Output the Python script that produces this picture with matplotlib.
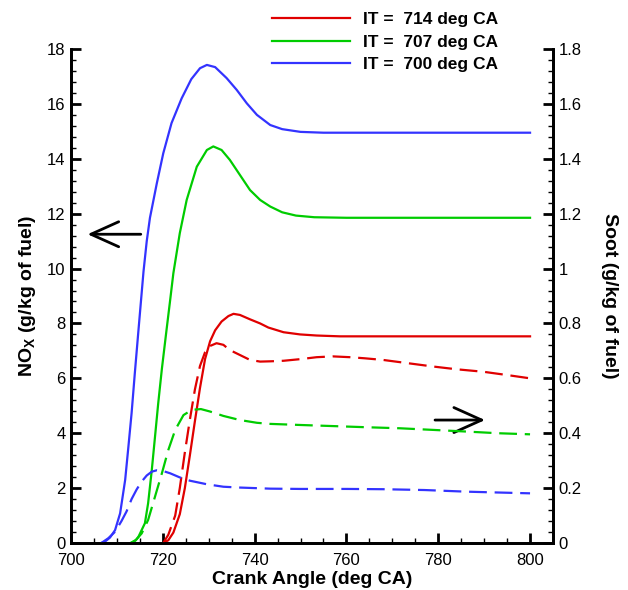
import matplotlib
matplotlib.use("Agg")
import matplotlib.pyplot as plt
from matplotlib.ticker import MultipleLocator, FuncFormatter

plt.rcParams['font.family'] = ['Liberation Sans', 'DejaVu Sans']
plt.rcParams['mathtext.fontset'] = 'custom'
plt.rcParams['mathtext.rm'] = 'Liberation Sans:bold'
plt.rcParams['mathtext.it'] = 'Liberation Sans:bold'
plt.rcParams['mathtext.bf'] = 'Liberation Sans:bold'

# Injection timings
labels = ["IT =  714 deg CA", "IT =  707 deg CA", "IT =  700 deg CA"]
colors = ["#e00000", "#00cc00", "#3333ff"]

# NOx (g/kg of fuel) versus crank angle
nox_714_ca = [720.1, 721.2, 722.3, 723.7, 724.8, 725.9, 727.0, 728.1, 729.2, 730.3, 731.4, 732.8, 734.3,
              735.4, 736.8, 739.0, 741.2, 743.0, 746.3, 749.9, 753.5, 758.6, 780.0, 800.0]
nox_714 = [0.0, 0.10, 0.38, 1.05, 2.00, 3.20, 4.45, 5.65, 6.70, 7.35, 7.75, 8.07, 8.27,
           8.35, 8.31, 8.15, 8.00, 7.85, 7.68, 7.60, 7.56, 7.53, 7.53, 7.53]

nox_707_ca = [713.0, 714.0, 714.7, 716.1, 716.8, 717.6, 718.3, 719.0, 719.8, 720.8, 721.6, 722.3, 723.7,
              725.2, 727.4, 729.6, 731.0, 732.8, 734.6, 736.8, 739.0, 741.2, 743.4, 746.0, 749.0,
              753.0, 760.0, 800.0]
nox_707 = [0.0, 0.08, 0.23, 0.72, 1.45, 2.66, 3.87, 5.09, 6.35, 7.75, 8.85, 9.83, 11.29,
           12.50, 13.71, 14.32, 14.45, 14.32, 13.96, 13.41, 12.86, 12.50, 12.26, 12.05, 11.93,
           11.87, 11.85, 11.85]

nox_700_ca = [706.6, 707.4, 708.5, 709.6, 710.7, 711.8, 712.5, 713.2, 713.9, 714.7, 715.8, 716.5, 717.2,
              718.7, 720.1, 721.9, 724.1, 726.2, 728.1, 729.6, 731.4, 733.9, 736.1, 738.3, 740.5,
              743.4, 746.0, 750.0, 755.0, 780.0, 800.0]
nox_700 = [0.0, 0.05, 0.20, 0.47, 1.08, 2.30, 3.50, 4.73, 6.18, 7.76, 9.90, 11.00, 11.85,
           13.11, 14.20, 15.30, 16.20, 16.90, 17.30, 17.42, 17.34, 16.94, 16.51, 16.02, 15.60,
           15.23, 15.08, 14.98, 14.95, 14.95, 14.95]

# Soot (g/kg of fuel) versus crank angle
soot_714_ca = [720.1, 721.2, 722.7, 723.7, 724.8, 725.9, 727.0, 728.1, 729.2, 730.3, 731.7, 733.2, 734.6,
               736.8, 739.0, 741.2, 743.4, 746.3, 750.0, 753.5, 757.0, 760.8, 764.0, 768.0, 773.0,
               778.9, 784.0, 789.8, 795.0, 800.0]
soot_714 = [0.0, 0.030, 0.100, 0.200, 0.330, 0.450, 0.560, 0.645, 0.695, 0.718, 0.728, 0.722, 0.703,
            0.685, 0.667, 0.661, 0.662, 0.664, 0.670, 0.677, 0.680, 0.677, 0.673, 0.667, 0.656,
            0.643, 0.633, 0.624, 0.612, 0.600]

soot_707_ca = [713.0, 714.2, 715.4, 716.8, 718.3, 719.8, 721.2, 722.7, 724.5, 726.3, 728.3,
               730.3, 733.2, 736.8, 740.5, 743.4, 750.0, 757.1, 764.0, 771.7, 779.0, 786.2, 793.0, 800.0]
soot_707 = [0.0, 0.012, 0.035, 0.084, 0.169, 0.254, 0.339, 0.412, 0.466, 0.485, 0.488,
            0.479, 0.463, 0.448, 0.438, 0.434, 0.430, 0.426, 0.422, 0.418, 0.412, 0.406, 0.400, 0.396]

soot_700_ca = [706.6, 708.1, 709.6, 711.0, 712.1, 713.2, 714.3, 715.4, 716.5, 717.6, 718.7, 720.1, 721.6,
               723.7, 725.9, 729.6, 733.2, 736.8, 743.4, 750.0, 760.0, 768.0, 777.0, 786.2, 793.0, 800.0]
soot_700 = [0.0, 0.017, 0.041, 0.080, 0.115, 0.160, 0.195, 0.224, 0.246, 0.260, 0.265, 0.262, 0.254,
            0.239, 0.227, 0.214, 0.205, 0.202, 0.198, 0.197, 0.197, 0.196, 0.193, 0.187, 0.184, 0.181]

nox_series = [(nox_714_ca, nox_714), (nox_707_ca, nox_707), (nox_700_ca, nox_700)]
soot_series = [(soot_714_ca, soot_714), (soot_707_ca, soot_707), (soot_700_ca, soot_700)]

fig = plt.figure(figsize=(6.28, 5.90), dpi=100)
ax = fig.add_axes([71 / 628, 1 - 543 / 590, (553 - 71) / 628, (543 - 49) / 590])
ax2 = ax.twinx()

lw = 1.6
handles = []
for (ca, v), c, lab in zip(nox_series, colors, labels):
    h, = ax.plot(ca, v, color=c, lw=lw, solid_joinstyle='round', label=lab)
    handles.append(h)
for (ca, v), c in zip(soot_series, colors):
    ax2.plot(ca, v, color=c, lw=lw, dashes=(8, 3.5), dash_joinstyle='round')

ax.set_xlim(700, 805)
ax.set_ylim(0, 18)
ax2.set_ylim(0, 1.8)

ax.xaxis.set_major_locator(MultipleLocator(20))
ax.xaxis.set_minor_locator(MultipleLocator(5))
ax.yaxis.set_major_locator(MultipleLocator(2))
ax.yaxis.set_minor_locator(MultipleLocator(0.4))
ax2.yaxis.set_major_locator(MultipleLocator(0.2))
ax2.yaxis.set_minor_locator(MultipleLocator(0.04))
ax2.yaxis.set_major_formatter(FuncFormatter(lambda v, p: f"{v:g}"))

for a in (ax, ax2):
    a.spines['top'].set_visible(False)
    for s in a.spines.values():
        s.set_linewidth(2.0)
    a.tick_params(which='major', direction='in', length=7, width=2, labelsize=12, pad=4)
    a.tick_params(which='minor', direction='in', length=3.5, width=1)
ax.tick_params(axis='x', pad=7.5)

ax.set_xlabel("Crank Angle (deg CA)", fontsize=14, fontweight='bold', labelpad=2)
ax.set_ylabel(r"NO$_\mathregular{X}$ (g/kg of fuel)", fontsize=14, fontweight='bold', labelpad=6)
ax2.set_ylabel("Soot (g/kg of fuel)", fontsize=14, fontweight='bold', rotation=270, labelpad=26)

# Arrows pointing to the axis each family of curves belongs to
arrow = dict(arrowstyle='->,head_length=1.0,head_width=0.45', color='black', lw=2, mutation_scale=20,
             shrinkA=0, shrinkB=0)
ax.annotate("", xy=(703.6, 11.25), xytext=(715.2, 11.25), arrowprops=arrow)
ax.annotate("", xy=(790.2, 4.48), xytext=(779.3, 4.48), arrowprops=arrow)

fig.legend(handles=handles, loc='upper left', bbox_to_anchor=(272 / 628, 1 - 12 / 590),
           frameon=False, borderpad=0, borderaxespad=0, handlelength=4.5, handletextpad=0.75,
           labelspacing=0.42, prop={'weight': 'bold', 'size': 12.5})

fig.savefig("out.png", dpi=100)
